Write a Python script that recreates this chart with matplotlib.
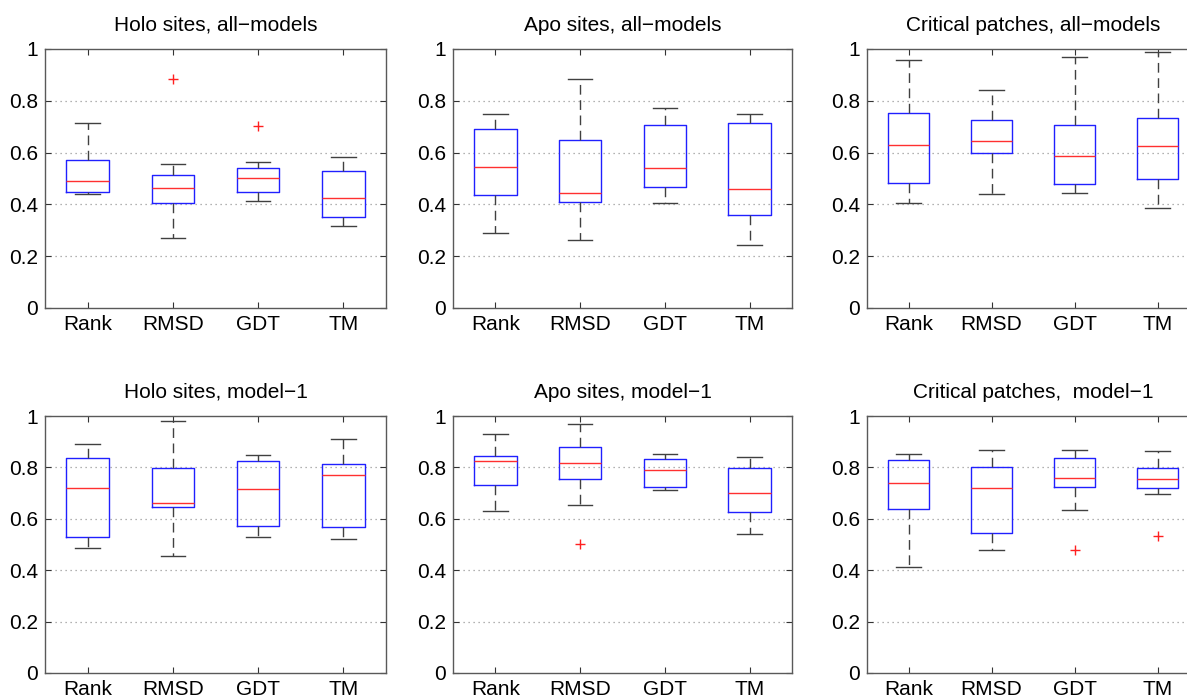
import matplotlib
matplotlib.use("Agg")
import matplotlib.pyplot as plt

plt.rcParams['font.family'] = ['Liberation Sans', 'DejaVu Sans']

methods = ["Rank", "RMSD", "GDT", "TM"]
titles = ["Holo sites, all\u2212models", "Apo sites, all\u2212models", "Critical patches, all\u2212models",
          "Holo sites, model\u22121", "Apo sites, model\u22121", "Critical patches,  model\u22121"]

# per panel: lists over methods [Rank, RMSD, GDT, TM]
holo_all_low = [0.440, 0.272, 0.414, 0.316]
holo_all_q1 = [0.449, 0.404, 0.448, 0.352]
holo_all_med = [0.490, 0.463, 0.501, 0.423]
holo_all_q3 = [0.573, 0.515, 0.539, 0.529]
holo_all_high = [0.714, 0.555, 0.565, 0.582]
holo_all_out = [[], [0.884], [0.703], []]

apo_all_low = [0.289, 0.261, 0.404, 0.243]
apo_all_q1 = [0.436, 0.410, 0.468, 0.359]
apo_all_med = [0.546, 0.444, 0.542, 0.461]
apo_all_q3 = [0.693, 0.650, 0.706, 0.714]
apo_all_high = [0.748, 0.884, 0.773, 0.748]
apo_all_out = [[], [], [], []]

crit_all_low = [0.404, 0.441, 0.445, 0.388]
crit_all_q1 = [0.484, 0.597, 0.479, 0.497]
crit_all_med = [0.628, 0.645, 0.586, 0.626]
crit_all_q3 = [0.751, 0.726, 0.708, 0.734]
crit_all_high = [0.959, 0.840, 0.969, 0.988]
crit_all_out = [[], [], [], []]

holo_m1_low = [0.486, 0.456, 0.531, 0.522]
holo_m1_q1 = [0.530, 0.645, 0.573, 0.569]
holo_m1_med = [0.720, 0.663, 0.716, 0.771]
holo_m1_q3 = [0.838, 0.797, 0.824, 0.815]
holo_m1_high = [0.890, 0.979, 0.848, 0.911]
holo_m1_out = [[], [], [], []]

apo_m1_low = [0.631, 0.655, 0.712, 0.541]
apo_m1_q1 = [0.731, 0.753, 0.724, 0.626]
apo_m1_med = [0.825, 0.819, 0.790, 0.699]
apo_m1_q3 = [0.846, 0.881, 0.832, 0.799]
apo_m1_high = [0.929, 0.969, 0.854, 0.842]
apo_m1_out = [[], [0.501], [], []]

crit_m1_low = [0.412, 0.478, 0.635, 0.696]
crit_m1_q1 = [0.640, 0.545, 0.724, 0.720]
crit_m1_med = [0.738, 0.718, 0.759, 0.753]
crit_m1_q3 = [0.829, 0.803, 0.835, 0.797]
crit_m1_high = [0.852, 0.868, 0.868, 0.863]
crit_m1_out = [[], [], [0.478], [0.532]]

panels = [
    (holo_all_low, holo_all_q1, holo_all_med, holo_all_q3, holo_all_high, holo_all_out),
    (apo_all_low, apo_all_q1, apo_all_med, apo_all_q3, apo_all_high, apo_all_out),
    (crit_all_low, crit_all_q1, crit_all_med, crit_all_q3, crit_all_high, crit_all_out),
    (holo_m1_low, holo_m1_q1, holo_m1_med, holo_m1_q3, holo_m1_high, holo_m1_out),
    (apo_m1_low, apo_m1_q1, apo_m1_med, apo_m1_q3, apo_m1_high, apo_m1_out),
    (crit_m1_low, crit_m1_q1, crit_m1_med, crit_m1_q3, crit_m1_high, crit_m1_out),
]

W, H = 1187, 700
fig = plt.figure(figsize=(W / 100, H / 100), dpi=100)

lefts = [45, 453, 867]
widths = [341, 339, 332]
rows = [(49, 308), (416, 673)]

tick_color = '0.2'
for i, (lo, q1, med, q3, hi, out) in enumerate(panels):
    r, c = divmod(i, 3)
    top, bot = rows[r]
    ax = fig.add_axes([lefts[c] / W, 1 - bot / H, widths[c] / W, (bot - top) / H])
    stats = []
    for j, m in enumerate(methods):
        stats.append(dict(label=m, whislo=lo[j], q1=q1[j], med=med[j], q3=q3[j],
                          whishi=hi[j], fliers=out[j]))
    ax.bxp(stats, positions=range(1, 5), widths=0.5, capwidths=0.29,
           boxprops=dict(color='#2020ff', linewidth=1.0),
           medianprops=dict(color='#ff3030', linewidth=1.0),
           whiskerprops=dict(color='0.25', linewidth=1.0, linestyle=(0, (7, 4))),
           capprops=dict(color='0.25', linewidth=1.0),
           flierprops=dict(marker='+', markeredgecolor='#ff2020', markersize=6.5, markeredgewidth=1.0,
                           linestyle='none'))
    ax.set_xlim(0.5, 4.5)
    ax.set_ylim(0, 1)
    ax.set_yticks([0, 0.2, 0.4, 0.6, 0.8, 1])
    ax.set_yticklabels(["0", "0.2", "0.4", "0.6", "0.8", "1"])
    ax.set_xticks(range(1, 5))
    ax.set_xticklabels(methods)
    for y in [0.2, 0.4, 0.6, 0.8]:
        ax.axhline(y, color='0.6', linestyle=(0, (1, 3)), linewidth=0.9, zorder=0)
    ax.tick_params(direction='in', length=4, top=True, right=True, labelsize=15,
                   color=tick_color, labelcolor='black', pad=5)
    for s in ax.spines.values():
        s.set_color('0.35')
        s.set_linewidth(1.0)
    ax.set_title(titles[i], fontsize=15, pad=13)

fig.savefig("out.png", dpi=100)
